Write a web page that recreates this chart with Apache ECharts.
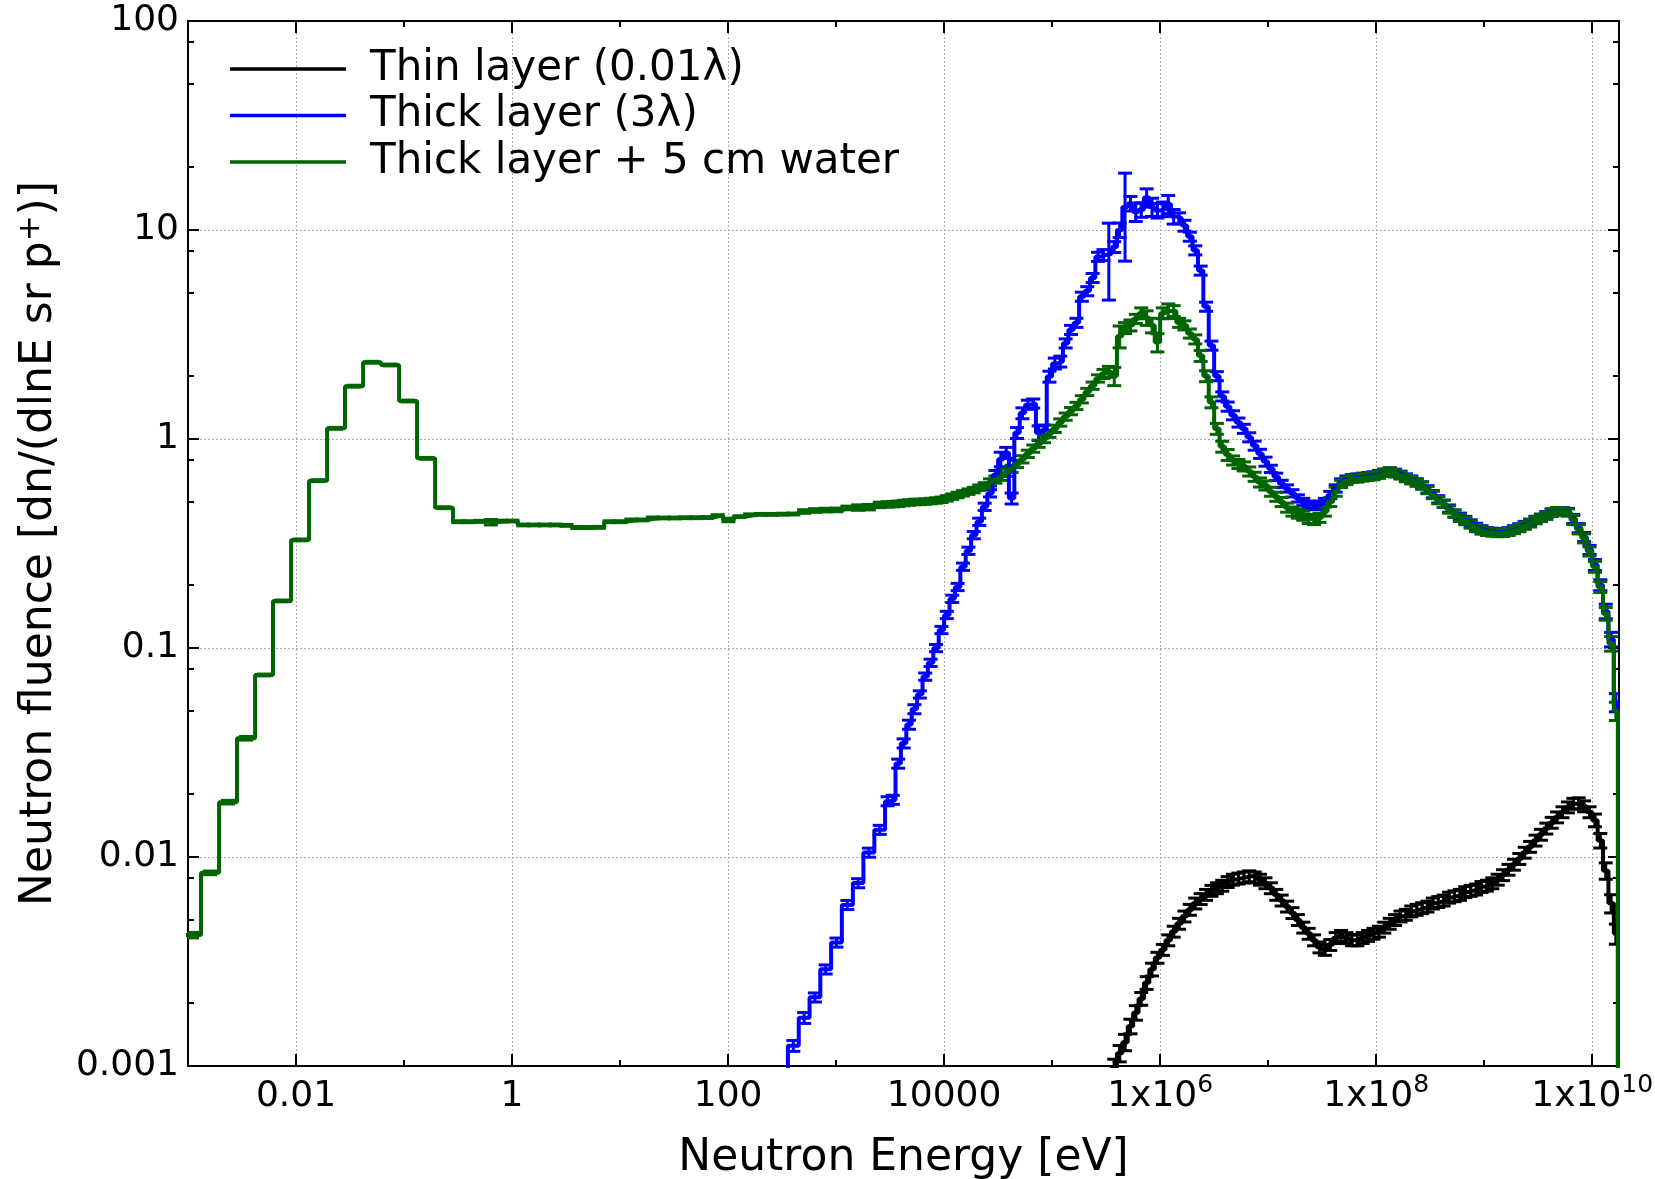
<!DOCTYPE html>
<html>
<head>
<meta charset="utf-8">
<title>Neutron fluence</title>
<script src="https://cdn.jsdelivr.net/npm/echarts@6/dist/echarts.min.js"></script>
<style>
  html, body { margin: 0; padding: 0; background: #fff; }
  #chart { width: 1655px; height: 1179px; }
</style>
</head>
<body>
<div id="chart"></div>
<script>
// lower bin edges [eV]; the last entry closes the final bin
var energyEdges = [
  // thermal bins (1/6 decade)
  0.0009, 0.00132, 0.00194, 0.00284, 0.00418, 0.00612, 0.009, 0.0132, 0.0194, 0.0284, 0.0418, 0.0612, 0.09, 0.132, 0.194,
  // 0.1 decade
  0.284, 0.358, 0.451, 0.568, 0.714, 0.899, 1.13, 1.43, 1.79, 2.26,
  2.84, 3.58, 4.51, 5.68, 7.14, 8.99, 11.3, 14.3, 17.9, 22.6,
  28.4, 35.8, 45.1, 56.8, 71.4, 89.9, 113, 143, 179, 226,
  284, 358, 451, 568, 714, 899, 1130, 1430, 1790, 2260,
  2840,
  // 0.05 decade
  3162, 3548, 3981, 4467, 5012, 5623, 6310, 7079, 7943, 8913,
  1.000e4, 1.122e4, 1.259e4, 1.413e4, 1.585e4, 1.778e4, 1.995e4, 2.239e4, 2.512e4, 2.818e4,
  3.162e4, 3.548e4, 3.981e4, 4.467e4, 5.012e4, 5.623e4, 6.310e4, 7.079e4, 7.943e4, 8.913e4,
  1.000e5, 1.122e5, 1.259e5, 1.413e5, 1.585e5, 1.778e5, 1.995e5, 2.239e5, 2.512e5, 2.818e5,
  3.162e5, 3.548e5, 3.981e5, 4.467e5, 5.012e5, 5.623e5, 6.310e5, 7.079e5, 7.943e5, 8.913e5,
  1.000e6, 1.122e6, 1.259e6, 1.413e6, 1.585e6, 1.778e6, 1.995e6, 2.239e6, 2.512e6, 2.818e6,
  3.162e6, 3.548e6, 3.981e6, 4.467e6, 5.012e6, 5.623e6, 6.310e6, 7.079e6, 7.943e6, 8.913e6,
  1.000e7, 1.122e7, 1.259e7, 1.413e7, 1.585e7, 1.778e7, 1.995e7, 2.239e7, 2.512e7, 2.818e7,
  3.162e7, 3.548e7, 3.981e7, 4.467e7, 5.012e7, 5.623e7, 6.310e7, 7.079e7, 7.943e7, 8.913e7,
  1.000e8, 1.122e8, 1.259e8, 1.413e8, 1.585e8, 1.778e8, 1.995e8, 2.239e8, 2.512e8, 2.818e8,
  3.162e8, 3.548e8, 3.981e8, 4.467e8, 5.012e8, 5.623e8, 6.310e8, 7.079e8, 7.943e8, 8.913e8,
  1.000e9, 1.122e9, 1.259e9, 1.413e9, 1.585e9, 1.778e9, 1.995e9, 2.239e9, 2.512e9, 2.818e9,
  3.162e9, 3.548e9, 3.981e9, 4.467e9, 5.012e9, 5.623e9, 6.310e9, 7.079e9, 7.943e9, 8.913e9,
  1.000e10, 1.122e10, 1.259e10, 1.413e10, 1.585e10,
  1.73e10
];

// Thin layer (0.01 lambda), first bin = energyEdges[96]
var thinStart = 96;
var thinFluence = [
  0.0008, 0.00098, 0.00115, 0.0013, 0.00155, 0.0018, 0.0021, 0.0025, 0.0029, 0.0033,
  0.0036, 0.004, 0.0044, 0.0048, 0.0052, 0.0056, 0.006, 0.0063, 0.0066, 0.0069,
  0.0071, 0.0073, 0.0076, 0.0078, 0.0079, 0.008, 0.0081, 0.008, 0.0078, 0.0075,
  0.0071, 0.0066, 0.0062, 0.0058, 0.0054, 0.005, 0.0046, 0.0043, 0.004, 0.0037,
  0.0036, 0.0038, 0.0041, 0.0042, 0.0041, 0.004, 0.004, 0.0041, 0.0042, 0.0043,
  0.0044, 0.0046, 0.0048, 0.005, 0.0052, 0.0053, 0.0055, 0.0056, 0.0057, 0.0058,
  0.006, 0.0061, 0.0062, 0.0064, 0.0065, 0.0066, 0.0068, 0.0069, 0.007, 0.0072,
  0.0073, 0.0075, 0.0078, 0.0082, 0.0087, 0.0092, 0.0098, 0.0105, 0.0112, 0.012,
  0.0128, 0.0137, 0.0146, 0.0155, 0.0164, 0.0173, 0.018, 0.0181, 0.0175, 0.0164,
  0.015, 0.012, 0.0086, 0.006, 0.0043
];
var thinErrPct = [
  10, 10, 9, 9, 8, 8, 7, 7, 7, 6,
  6, 6, 6, 6, 6, 6, 6, 6, 6, 6,
  6, 6, 6, 6, 6, 6, 6, 6, 6, 6,
  6, 6, 6, 6, 6, 6, 6, 6, 6, 6,
  6, 6, 6, 6, 6, 6, 6, 6, 6, 6,
  6, 6, 6, 6, 6, 6, 6, 6, 6, 6,
  6, 6, 6, 6, 6, 6, 6, 6, 6, 6,
  6, 6, 6, 6, 6, 6, 6, 6, 6, 6,
  6, 6, 6, 6, 6, 6, 6, 6, 6, 6,
  7, 8, 9, 10, 11
];

// Thick layer (3 lambda), first bin = energyEdges[45]
var thickStart = 45;
var thickFluence = [
  0.0008, 0.00125, 0.0017, 0.00213, 0.0029, 0.0039, 0.0059, 0.0075, 0.0105, 0.0135, 0.0185,
  0.0188, 0.028, 0.035, 0.043, 0.051, 0.06, 0.073, 0.085, 0.1, 0.122,
  0.144, 0.172, 0.196, 0.245, 0.292, 0.347, 0.402, 0.474, 0.55, 0.673,
  0.8, 0.86, 0.52, 1.07, 1.33, 1.46, 1.48, 1.07, 1.1, 1.99,
  2.3, 2.35, 2.87, 3.33, 3.6, 4.8, 5.1, 5.9, 7.45, 7.6,
  7.7, 8.3, 10, 12.9, 13.4, 12.2, 12.5, 14.3, 12.9, 12.4,
  12.6, 13.3, 11.6, 11.4, 10.5, 9.3, 8.0, 6.4, 4.3, 2.8,
  2.0, 1.6, 1.43, 1.3, 1.2, 1.12, 1.02, 0.93, 0.85, 0.78,
  0.72, 0.66, 0.61, 0.58, 0.55, 0.52, 0.5, 0.485, 0.478, 0.485,
  0.5, 0.54, 0.58, 0.62, 0.64, 0.65, 0.655, 0.66, 0.665, 0.67,
  0.68, 0.69, 0.7, 0.69, 0.675, 0.655, 0.64, 0.62, 0.6, 0.575,
  0.545, 0.515, 0.49, 0.465, 0.44, 0.425, 0.41, 0.395, 0.38, 0.37,
  0.362, 0.36, 0.358, 0.358, 0.362, 0.37, 0.378, 0.388, 0.398, 0.41,
  0.42, 0.432, 0.445, 0.452, 0.452, 0.448, 0.415, 0.375, 0.34, 0.295,
  0.25, 0.2, 0.15, 0.11, 0.055
];
var thickErrPct = [
  8, 6, 6, 5, 5, 5, 5, 5, 5, 5, 5,
  5, 5, 5, 5, 5, 4, 4, 4, 4, 4,
  4, 4, 4, 4, 4, 4, 4, 4, 4, 5,
  8, 6, 6, 6, 6, 5, 5, 8, 6, 6,
  6, 6, 5, 5, 5, 5, 5, 5, 5, 6,
  40, 6, 8, 45, 8, 10, 8, 10, 10, 8,
  8, 10, 8, 6, 6, 5, 5, 5, 5, 5,
  5, 5, 5, 5, 5, 5, 5, 5, 5, 5,
  4, 4, 4, 4, 4, 4, 4, 4, 4, 4,
  4, 4, 4, 4, 4, 4, 4, 4, 4, 4,
  4, 4, 4, 4, 4, 4, 4, 4, 4, 4,
  4, 4, 4, 4, 4, 4, 4, 4, 4, 4,
  4, 4, 4, 4, 4, 4, 4, 4, 4, 4,
  4, 4, 4, 4, 4, 4, 5, 5, 5, 5,
  6, 6, 8, 8, 10
];

// Thick layer + 5 cm water, first bin = energyEdges[0]
var waterStart = 0;
var waterFluence = [
  0.00423, 0.0084, 0.0183, 0.037, 0.0743, 0.168, 0.329, 0.632, 1.125, 1.79, 2.33, 2.26, 1.52, 0.808, 0.469,
  0.402, 0.402, 0.404, 0.400, 0.405, 0.405, 0.388, 0.388, 0.388, 0.388,
  0.386, 0.377, 0.377, 0.378, 0.402, 0.402, 0.41, 0.41, 0.419, 0.419,
  0.419, 0.42, 0.42, 0.421, 0.43, 0.41, 0.425, 0.434, 0.436, 0.436,
  0.437, 0.438, 0.45, 0.455, 0.457, 0.458, 0.468, 0.47, 0.472, 0.484,
  0.487,
  0.488, 0.49, 0.494, 0.497, 0.5, 0.5, 0.502, 0.505, 0.508, 0.512,
  0.52, 0.53, 0.54, 0.55, 0.56, 0.57, 0.585, 0.6, 0.62, 0.64,
  0.66, 0.69, 0.72, 0.76, 0.8, 0.85, 0.9, 0.95, 1.0, 1.06,
  1.12, 1.2, 1.28, 1.36, 1.44, 1.55, 1.68, 1.8, 1.95, 2.05,
  2.1, 2.0, 3.1, 3.4, 3.5, 3.76, 4.0, 3.8, 3.5, 2.9,
  4.0, 4.1, 4.1, 3.6, 3.5, 3.2, 3.0, 2.5, 2.0, 1.5,
  1.12, 0.92, 0.84, 0.79, 0.76, 0.74, 0.7, 0.66, 0.62, 0.6,
  0.56, 0.53, 0.5, 0.47, 0.45, 0.44, 0.43, 0.415, 0.41, 0.42,
  0.45, 0.5, 0.56, 0.61, 0.63, 0.645, 0.648, 0.655, 0.66, 0.665,
  0.675, 0.69, 0.7, 0.685, 0.67, 0.65, 0.635, 0.62, 0.6, 0.57,
  0.54, 0.51, 0.49, 0.46, 0.44, 0.42, 0.405, 0.39, 0.375, 0.365,
  0.36, 0.357, 0.355, 0.356, 0.36, 0.367, 0.375, 0.385, 0.395, 0.41,
  0.42, 0.43, 0.445, 0.452, 0.45, 0.445, 0.41, 0.37, 0.335, 0.29,
  0.245, 0.196, 0.146, 0.105, 0.05
];
var waterErrPct = [
  3, 2, 2, 2, 1, 1, 1, 1, 1, 1, 1, 1, 1, 1, 1,
  1, 1, 1, 3, 1, 1, 1, 1, 1, 1,
  1, 1, 1, 1, 1, 1, 1, 1, 1, 1,
  1, 1, 1, 1, 1, 2, 1, 1, 1, 1,
  1, 1, 2, 2, 2, 2, 2, 3, 3, 3,
  3,
  3, 3, 3, 3, 3, 3, 3, 3, 3, 3,
  3, 3, 3, 3, 3, 3, 3, 3, 4, 4,
  4, 4, 4, 4, 4, 4, 4, 4, 4, 4,
  4, 4, 4, 4, 4, 4, 4, 4, 4, 5,
  6, 10, 12, 6, 6, 5, 6, 8, 8, 10,
  6, 8, 6, 5, 5, 5, 5, 6, 6, 6,
  6, 6, 6, 5, 5, 5, 5, 5, 5, 5,
  5, 5, 5, 5, 5, 5, 5, 5, 5, 5,
  5, 5, 5, 4, 4, 4, 4, 4, 4, 4,
  4, 4, 4, 4, 4, 4, 4, 4, 4, 4,
  4, 4, 4, 4, 4, 4, 4, 4, 4, 4,
  4, 4, 4, 4, 4, 4, 4, 4, 4, 4,
  4, 4, 4, 4, 4, 4, 5, 5, 5, 5,
  6, 6, 7, 8, 10
];

// axes
var energyMin = 0.001, energyMax = 1.77e10;
var fluenceMin = 0.001, fluenceMax = 100;
var energyTicks = [0.01, 1, 100, 1e4, 1e6, 1e8, 1e10];
var energyTickText = ['0.01', '1', '100', '10000', '1x10{sup|6}', '1x10{sup|8}', '1x10{sup|10}'];
var energyMinorTicks = [0.1, 10, 1000, 1e5, 1e7, 1e9];
var fluenceTicks = [0.001, 0.01, 0.1, 1, 10, 100];
var fluenceTickText = ['0.001', '0.01', '0.1', '1', '10', '100'];
var fluenceMinorTicks = [0.002, 0.005, 0.008, 0.02, 0.05, 0.08, 0.2, 0.5, 0.8, 2, 5, 8, 20, 50, 80];
var closeLevel = 1e-5;   // histogram closes down to here (below the axis)

var font = 'DejaVu Sans';

function stepData(start, vals) {
    var pts = [];
    for (var i = 0; i < vals.length; i++) {
        pts.push([energyEdges[start + i], vals[i]]);
    }
    pts.push([energyEdges[start + vals.length], closeLevel]);
    return pts;
}

function errData(start, vals, errs) {
    return vals.map(function (v, i) {
        var lo = energyEdges[start + i], hi = energyEdges[start + i + 1];
        return [Math.sqrt(lo * hi), v * (1 - errs[i] / 100), v * (1 + errs[i] / 100)];
    });
}

function errorBars(color) {
    return function (params, api) {
        var top = api.coord([api.value(0), api.value(2)]);
        var bot = api.coord([api.value(0), api.value(1)]);
        var w = 7;
        var style = { stroke: color, lineWidth: 3 };
        return {
            type: 'group',
            children: [
                { type: 'line', shape: { x1: top[0], y1: top[1], x2: bot[0], y2: bot[1] }, style: style },
                { type: 'line', shape: { x1: top[0] - w, y1: top[1], x2: top[0] + w, y2: top[1] }, style: style },
                { type: 'line', shape: { x1: bot[0] - w, y1: bot[1], x2: bot[0] + w, y2: bot[1] }, style: style }
            ]
        };
    };
}

function tickText(ticks, texts) {
    return function (v) {
        for (var i = 0; i < ticks.length; i++) {
            if (Math.abs(Math.log10(v / ticks[i])) < 0.01) return texts[i];
        }
        return '';
    };
}

var blackLine = { color: '#000', width: 2 };
var gridLine = { color: '#aaaaaa', width: 1, type: [2, 2] };

function logAxis(extra) {
    var a = {
        type: 'log', logBase: 10,
        axisLine: { show: false, onZero: false },
        axisTick: { show: true, inside: true, length: 12, lineStyle: blackLine },
        axisLabel: { show: false },
        splitLine: { show: false }
    };
    for (var k in extra) a[k] = extra[k];
    return a;
}

var option = {
    animation: false,
    textStyle: { fontFamily: font },
    grid: { left: 188, right: 36, top: 21, bottom: 113, containLabel: false, outerBoundsMode: 'none' },
    legend: {
        data: ['Thin layer (0.01λ)', 'Thick layer (3λ)', 'Thick layer + 5 cm water'],
        orient: 'vertical',
        left: 230,
        top: 48,
        padding: 0,
        itemGap: 4.5,
        itemWidth: 116,
        itemHeight: 3.5,
        icon: 'rect',
        selectedMode: false,
        textStyle: { fontSize: 42, color: '#000', fontFamily: font, lineHeight: 42, padding: [0, 0, 0, 19] }
    },
    xAxis: [
        logAxis({
            position: 'bottom', min: energyMin, max: energyMax,
            name: 'Neutron Energy [eV]', nameLocation: 'middle', nameGap: 68,
            nameTextStyle: { fontSize: 44, color: '#000', fontFamily: font, lineHeight: 50 },
            axisLine: { show: true, onZero: false, lineStyle: blackLine },
            axisTick: { show: true, inside: true, length: 12, customValues: energyTicks, lineStyle: blackLine },
            axisLabel: {
                show: true, customValues: energyTicks, formatter: tickText(energyTicks, energyTickText),
                fontSize: 36, color: '#000', fontFamily: font, margin: 7, lineHeight: 48,
                rich: { sup: { fontSize: 25, lineHeight: 25, verticalAlign: 'top', color: '#000', fontFamily: font } }
            },
            splitLine: { show: true, lineStyle: gridLine }
        }),
        logAxis({
            position: 'bottom', min: energyMin, max: energyMax,
            axisTick: { show: true, inside: true, length: 6, customValues: energyMinorTicks, lineStyle: blackLine }
        }),
        logAxis({
            position: 'top', min: energyMin, max: energyMax,
            axisLine: { show: true, onZero: false, lineStyle: blackLine },
            axisTick: { show: true, inside: true, length: 12, customValues: energyTicks, lineStyle: blackLine }
        }),
        logAxis({
            position: 'top', min: energyMin, max: energyMax,
            axisTick: { show: true, inside: true, length: 6, customValues: energyMinorTicks, lineStyle: blackLine }
        })
    ],
    yAxis: [
        logAxis({
            position: 'left', min: fluenceMin, max: fluenceMax,
            name: 'Neutron fluence [dn/(dlnE sr p{sup|+})]', nameLocation: 'middle', nameGap: 122,
            nameTextStyle: {
                fontSize: 44, color: '#000', fontFamily: font, lineHeight: 50,
                rich: { sup: { fontSize: 31, lineHeight: 31, verticalAlign: 'top', color: '#000', fontFamily: font } }
            },
            axisLine: { show: true, onZero: false, lineStyle: blackLine },
            axisTick: { show: true, inside: true, length: 11, customValues: fluenceTicks, lineStyle: blackLine },
            axisLabel: {
                show: true, customValues: fluenceTicks, formatter: tickText(fluenceTicks, fluenceTickText),
                fontSize: 36, color: '#000', fontFamily: font, margin: 9
            },
            splitLine: { show: true, lineStyle: gridLine }
        }),
        logAxis({
            position: 'left', min: fluenceMin, max: fluenceMax,
            axisTick: { show: true, inside: true, length: 6, customValues: fluenceMinorTicks, lineStyle: blackLine }
        }),
        logAxis({
            position: 'right', min: fluenceMin, max: fluenceMax,
            axisLine: { show: true, onZero: false, lineStyle: blackLine },
            axisTick: { show: true, inside: true, length: 11, customValues: fluenceTicks, lineStyle: blackLine }
        }),
        logAxis({
            position: 'right', min: fluenceMin, max: fluenceMax,
            axisTick: { show: true, inside: true, length: 6, customValues: fluenceMinorTicks, lineStyle: blackLine }
        })
    ],
    series: [
        {
            name: 'Thin layer (0.01λ)', type: 'line', step: 'end', symbol: 'none', clip: true,
            data: stepData(thinStart, thinFluence),
            lineStyle: { color: '#000000', width: 4 }, itemStyle: { color: '#000000' }
        },
        {
            name: 'thin err', type: 'custom', clip: true, silent: true,
            renderItem: errorBars('#000000'), encode: { x: 0, y: [1, 2] },
            data: errData(thinStart, thinFluence, thinErrPct)
        },
        {
            name: 'Thick layer (3λ)', type: 'line', step: 'end', symbol: 'none', clip: true,
            data: stepData(thickStart, thickFluence),
            lineStyle: { color: '#0000ff', width: 4 }, itemStyle: { color: '#0000ff' }
        },
        {
            name: 'thick err', type: 'custom', clip: true, silent: true,
            renderItem: errorBars('#0000ff'), encode: { x: 0, y: [1, 2] },
            data: errData(thickStart, thickFluence, thickErrPct)
        },
        {
            name: 'Thick layer + 5 cm water', type: 'line', step: 'end', symbol: 'none', clip: true,
            data: stepData(waterStart, waterFluence),
            lineStyle: { color: '#006400', width: 4 }, itemStyle: { color: '#006400' }
        },
        {
            name: 'water err', type: 'custom', clip: true, silent: true,
            renderItem: errorBars('#006400'), encode: { x: 0, y: [1, 2] },
            data: errData(waterStart, waterFluence, waterErrPct)
        }
    ]
};

var chart = echarts.init(document.getElementById('chart'));
chart.setOption(option, true);
</script>
</body>
</html>
